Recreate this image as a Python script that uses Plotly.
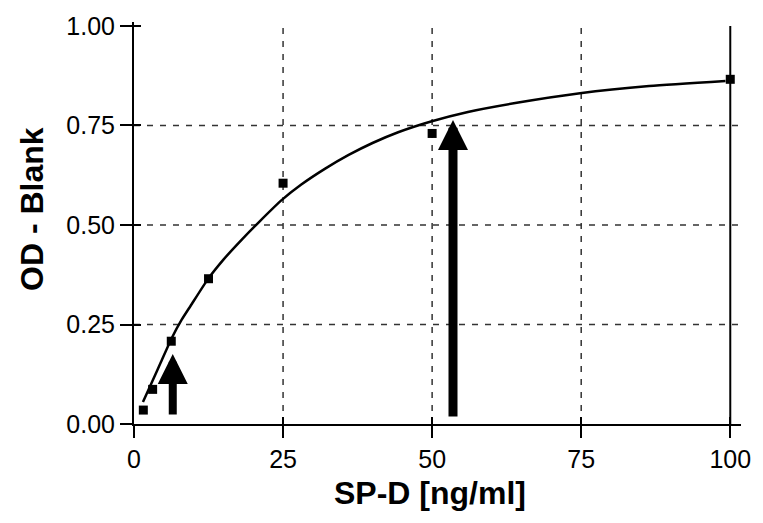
import plotly.graph_objects as go

# Measured standards
conc = [1.5625, 3.125, 6.25, 12.5, 25, 50, 100]
od = [0.035, 0.087, 0.208, 0.365, 0.605, 0.73, 0.866]

# Fitted curve
curve_x = [1.5, 3.0, 4.5, 6.3, 8.0, 9.5, 12.4, 15, 18, 21, 24.8, 28, 32, 36, 40, 44.3, 49.8, 56, 64.2, 74.8, 86.4, 99.2]
curve_y = [0.055, 0.105, 0.155, 0.215, 0.262, 0.297, 0.364, 0.413, 0.462, 0.508, 0.563, 0.601, 0.641, 0.676, 0.706, 0.733, 0.760, 0.784, 0.807, 0.831, 0.849, 0.862]

# Arrows
arrow_x = [6.5, 53.5]
arrow_tip = [0.176, 0.764]
arrow_base = [0.02, 0.015]
arrow_w = [8, 9]

x_ticks = [0, 25, 50, 75, 100]
x_tick_text = ["0", "25", "50", "75", "100"]
y_ticks = [0.0, 0.25, 0.5, 0.75, 1.0]
y_tick_text = ["0.00", "0.25", "0.50", "0.75", "1.00"]
x_grid = [25, 50, 75]
y_grid = [0.25, 0.5, 0.75]

x_title = "SP-D [ng/ml]"
y_title = "OD - Blank"

XR = [0, 101.8]
YR = [0, 1.01]

fig = go.Figure()
fig.add_trace(go.Scatter(x=curve_x, y=curve_y, mode="lines",
                         line=dict(color="black", width=2.5, shape="spline", smoothing=0.6),
                         showlegend=False, hoverinfo="skip"))
fig.add_trace(go.Scatter(x=conc, y=od, mode="markers",
                         marker=dict(symbol="square", size=9, color="black"),
                         showlegend=False))
# invisible trace for inside-tick overlay axes
fig.add_trace(go.Scatter(x=[None], y=[None], xaxis="x2", yaxis="y2", showlegend=False))

shapes = []
for g in x_grid:
    shapes.append(dict(type="line", xref="x", yref="y", x0=g, x1=g, y0=0, y1=1.0,
                       line=dict(color="#333", width=1.5, dash="6px,7px"), layer="below"))
for g in y_grid:
    shapes.append(dict(type="line", xref="x domain", yref="y", x0=0, x1=1, y0=g, y1=g,
                       line=dict(color="#333", width=1.5, dash="6px,7px"), layer="below"))
shapes.append(dict(type="line", xref="x", yref="y", x0=x_ticks[-1], x1=x_ticks[-1], y0=0, y1=1.0,
                   line=dict(color="black", width=2), layer="below"))

tickfont = dict(family="Liberation Sans, Arial", size=25, color="black")
titlefont = dict(family="Liberation Sans, Arial", size=32, color="black", weight="bold")

annotations = []
for xa, tip, base, w in zip(arrow_x, arrow_tip, arrow_base, arrow_w):
    annotations.append(dict(x=xa, y=tip, ax=xa, ay=base, xref="x", yref="y",
                            axref="x", ayref="y", text="", showarrow=True,
                            arrowhead=2, arrowwidth=w, arrowsize=30 / (5 * w),
                            arrowcolor="black"))
annotations.append(dict(text=x_title, xref="paper", yref="paper", x=0.487, y=-0.172,
                        xanchor="center", yanchor="middle", showarrow=False, font=titlefont))
annotations.append(dict(text=y_title, xref="paper", yref="paper", x=-0.167, y=0.534,
                        xanchor="center", yanchor="middle", showarrow=False, font=titlefont,
                        textangle=-90))

fig.update_layout(
    width=763, height=523,
    margin=dict(l=134, r=17, t=16, b=99),
    paper_bgcolor="white", plot_bgcolor="white",
    shapes=shapes, annotations=annotations,
    xaxis=dict(range=XR, tickvals=x_ticks, ticktext=x_tick_text, showgrid=False, zeroline=False,
               showline=True, linecolor="black", linewidth=2,
               ticks="outside", ticklen=12, tickwidth=2, tickcolor="black",
               tickfont=tickfont),
    yaxis=dict(range=YR, tickvals=y_ticks, ticktext=y_tick_text, showgrid=False, zeroline=False,
               showline=True, linecolor="black", linewidth=2,
               ticks="outside", ticklen=12, tickwidth=2, tickcolor="black",
               tickfont=tickfont),
    xaxis2=dict(range=XR, overlaying="x", anchor="y2", side="bottom", tickvals=x_ticks,
                showticklabels=False, showgrid=False, zeroline=False, showline=False,
                ticks="inside", ticklen=7, tickwidth=2, tickcolor="black"),
    yaxis2=dict(range=YR, overlaying="y", anchor="x2", side="left", tickvals=y_ticks,
                showticklabels=False, showgrid=False, zeroline=False, showline=False,
                ticks="inside", ticklen=7, tickwidth=2, tickcolor="black"),
)

fig.write_html("out.html")
